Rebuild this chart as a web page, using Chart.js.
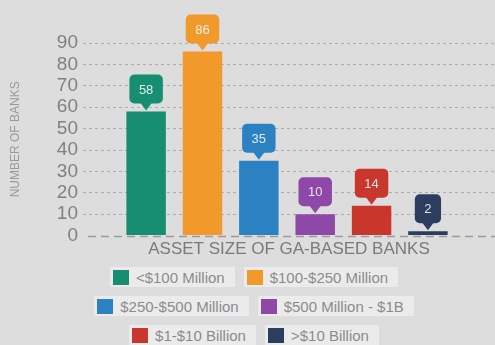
<!DOCTYPE html>
<html>
<head>
<meta charset="utf-8">
<script src="https://cdn.jsdelivr.net/npm/chart.js@4.4.1/dist/chart.umd.min.js"></script>
<style>
  html, body { margin: 0; padding: 0; background: #dddddd; }
  body { width: 495px; height: 345px; overflow: hidden; font-family: "Liberation Sans", Arial, sans-serif; }
  #wrap { position: relative; width: 495px; height: 262px; }
  #legend { padding-left: 13px; margin-top: 5px; }
  .row { display: flex; justify-content: center; gap: 9px; margin-bottom: 9px; }
  .item { display: flex; align-items: center; height: 20px; background: #ebebeb; padding: 0 10px 0 3px;
          font-size: 15px; color: #8c8c8c; white-space: nowrap; }
  .swatch { width: 16px; height: 15px; margin-right: 7px; }
</style>
</head>
<body>
<div id="wrap"><canvas id="chart"></canvas></div>
<div id="legend"></div>
<script>
// asset size buckets and bank counts
const categories = ['<$100 Million', '$100-$250 Million', '$250-$500 Million', '$500 Million - $1B', '$1-$10 Billion', '>$10 Billion'];
const bankCounts = [58, 86, 35, 10, 14, 2];
const barColors = ['#178e71', '#f1992a', '#2c81c2', '#8e48a7', '#c9372c', '#2c3d5d'];
const yMax = 90;
const yStep = 10;
const legendRows = [[0, 1], [2, 3], [4, 5]];

const FONT = '"Liberation Sans", Arial, sans-serif';
Chart.defaults.font.family = FONT;

// long-dashed zero line under the bars
const baseline = {
  id: 'baseline',
  beforeDatasetsDraw(chart) {
    const { ctx, chartArea, scales } = chart;
    const y = Math.round(scales.y.getPixelForValue(0)) + 0.5;
    ctx.save();
    ctx.strokeStyle = '#9a9a9a';
    ctx.lineWidth = 1.5;
    ctx.setLineDash([8, 5]);
    ctx.beginPath();
    ctx.moveTo(chartArea.left + 5, y);
    ctx.lineTo(chartArea.right, y);
    ctx.stroke();
    ctx.restore();
  }
};

function roundedBox(ctx, x, y, w, h, r) {
  ctx.moveTo(x + r, y);
  ctx.arcTo(x + w, y, x + w, y + h, r);
  ctx.arcTo(x + w, y + h, x, y + h, r);
  ctx.arcTo(x, y + h, x, y, r);
  ctx.arcTo(x, y, x + w, y, r);
  ctx.closePath();
}

// value bubbles with a pointer above each bar
const callouts = {
  id: 'callouts',
  afterDatasetsDraw(chart) {
    const { ctx } = chart;
    const ds = chart.data.datasets[0];
    const meta = chart.getDatasetMeta(0);
    ctx.save();
    ctx.font = '13px ' + FONT;
    ctx.textAlign = 'center';
    ctx.textBaseline = 'middle';
    meta.data.forEach((bar, i) => {
      const text = String(ds.data[i].y);
      const w = ctx.measureText(text).width + 19;
      const h = 29;
      const tip = bar.y - 1;
      const bottom = tip - 7;
      ctx.fillStyle = barColors[i];
      ctx.beginPath();
      roundedBox(ctx, bar.x - w / 2, bottom - h, w, h, 5);
      ctx.fill();
      ctx.beginPath();
      ctx.moveTo(bar.x - 6, bottom - 1);
      ctx.lineTo(bar.x + 6, bottom - 1);
      ctx.lineTo(bar.x, tip);
      ctx.closePath();
      ctx.fill();
      ctx.fillStyle = 'rgba(255,255,255,0.85)';
      ctx.fillText(text, bar.x, bottom - h / 2 + 1);
    });
    ctx.restore();
  }
};

new Chart(document.getElementById('chart'), {
  type: 'bar',
  data: {
    labels: categories,
    datasets: [{
      data: bankCounts.map((v, i) => ({ x: i, y: v })),
      backgroundColor: barColors,
      borderWidth: 0,
      categoryPercentage: 1,
      barPercentage: 0.7
    }]
  },
  options: {
    responsive: true,
    maintainAspectRatio: false,
    animation: false,
    layout: { padding: { top: 43, left: 8, right: 0, bottom: 2 } },
    plugins: { legend: { display: false }, tooltip: { enabled: false } },
    scales: {
      x: {
        type: 'linear',
        offset: false,
        min: -1.12,
        max: 6.19,
        grid: { display: false, offset: false, drawTicks: false },
        border: { display: false },
        ticks: { display: false },
        title: {
          display: true,
          text: 'ASSET SIZE OF GA-BASED BANKS',
          color: '#7a7a7a',
          font: { size: 17 },
          padding: { top: 4, bottom: 0 }
        }
      },
      y: {
        min: 0,
        max: yMax,
        afterFit(scale) { scale.width = 75; },
        ticks: { stepSize: yStep, autoSkip: false, color: '#808080', font: { size: 19 }, padding: 5 },
        grid: {
          drawTicks: false,
          color: ctx => (ctx.tick && ctx.tick.value === 0 ? 'rgba(0,0,0,0)' : '#adadad')
        },
        border: { display: false, dash: [3, 3] },
        title: {
          display: true,
          text: 'NUMBER OF BANKS',
          color: '#9a9a9a',
          font: { size: 12 },
          padding: 0
        }
      }
    }
  },
  plugins: [baseline, callouts]
});

// legend built from the same categories and colours
const legend = document.getElementById('legend');
legendRows.forEach(row => {
  const rowEl = document.createElement('div');
  rowEl.className = 'row';
  row.forEach(i => {
    const item = document.createElement('div');
    item.className = 'item';
    const sw = document.createElement('span');
    sw.className = 'swatch';
    sw.style.background = barColors[i];
    item.appendChild(sw);
    item.appendChild(document.createTextNode(categories[i]));
    rowEl.appendChild(item);
  });
  legend.appendChild(rowEl);
});
</script>
</body>
</html>
